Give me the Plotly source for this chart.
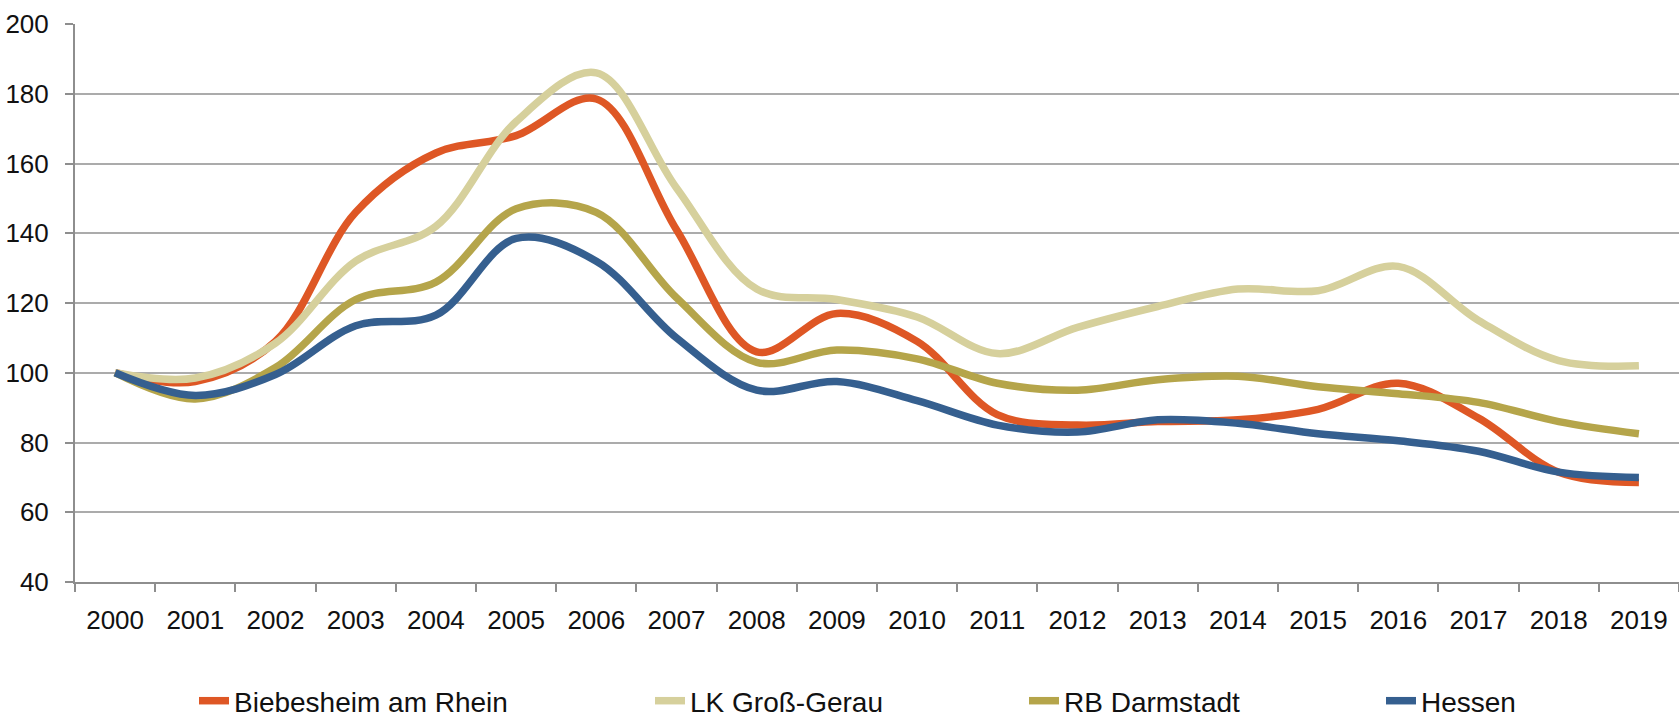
import plotly.graph_objects as go

years = [str(y) for y in range(2000, 2020)]
biebesheim = [100, 97.5, 109, 146, 163, 168, 178.5, 141, 106, 117, 109, 88, 85, 86, 86.5, 89.5, 97, 87, 71.5, 68.5]
lk_gross_gerau = [100, 98.5, 108.5, 132, 142, 172, 186, 153, 124, 121, 116, 105.5, 113, 119, 124, 123.5, 130.5, 115, 103.5, 102]
rb_darmstadt = [100, 92.5, 101.5, 121, 126, 147, 146, 121.5, 103, 106.5, 104, 97, 95, 98, 99, 96, 94, 91.5, 86, 82.5]
hessen = [100, 93.5, 99.5, 113.5, 116.5, 138.5, 132, 110, 95, 97.5, 92, 85, 83, 86.5, 85.5, 82.5, 80.5, 77.5, 71.5, 70]

series_names = ["Biebesheim am Rhein", "LK Groß-Gerau", "RB Darmstadt", "Hessen"]
series_values = [biebesheim, lk_gross_gerau, rb_darmstadt, hessen]
colors = ["#DE5725", "#D6D09C", "#B5A54A", "#355F8F"]
legend_ids = ["legend", "legend2", "legend3", "legend4"]
legend_text_px = [235, 691, 1065, 1422]

W, H = 1679, 717
ML, MR, MT, MB = 75, 0, 24, 135

fig = go.Figure()
for name, vals, col, lid in zip(series_names, series_values, colors, legend_ids):
    fig.add_trace(go.Scatter(
        x=years, y=vals, name=name, mode="lines",
        line=dict(color=col, width=7.5, shape="spline", smoothing=1.0),
        legend=lid, hoverinfo="x+y+name",
    ))

legend_common = dict(
    orientation="h", yanchor="middle", xanchor="left",
    xref="container", yref="container",
    font=dict(family="Liberation Sans, Arial, sans-serif", size=28, color="#111111"),
    bgcolor="rgba(0,0,0,0)", borderwidth=0,
)
layout_legends = {}
for lid, tx in zip(legend_ids, legend_text_px):
    layout_legends[lid] = dict(legend_common, x=(tx - 41) / W, y=(H - 701) / H)

axis_gray = "#8E8E8E"
fig.update_layout(
    width=W, height=H,
    margin=dict(l=ML, r=MR, t=MT, b=MB, pad=0, autoexpand=False),
    paper_bgcolor="white", plot_bgcolor="white",
    showlegend=True,
    xaxis=dict(
        type="category", showgrid=False, zeroline=False,
        showline=True, linecolor=axis_gray, linewidth=2,
        ticks="outside", tickson="boundaries", ticklen=8, tickwidth=2, tickcolor=axis_gray,
        tickfont=dict(family="Liberation Sans Narrow, Arial Narrow, Liberation Sans, sans-serif", size=26, color="#111111"),
        ticklabelstandoff=14,
        range=[-0.5, 19.5],
    ),
    yaxis=dict(
        range=[40, 200], dtick=20, tick0=40,
        showgrid=True, gridcolor="#ABABAB", gridwidth=1.5, zeroline=False,
        showline=True, linecolor=axis_gray, linewidth=2,
        ticks="outside", ticklen=8, tickwidth=2, tickcolor=axis_gray,
        tickfont=dict(family="Liberation Sans, Arial, sans-serif", size=26, color="#111111"),
        ticklabelstandoff=11,
    ),
    **layout_legends,
)

fig.write_html(
    "out.html",
    config={"displayModeBar": False},
    post_script="document.body.style.margin='0';document.body.style.overflow='hidden';",
)
